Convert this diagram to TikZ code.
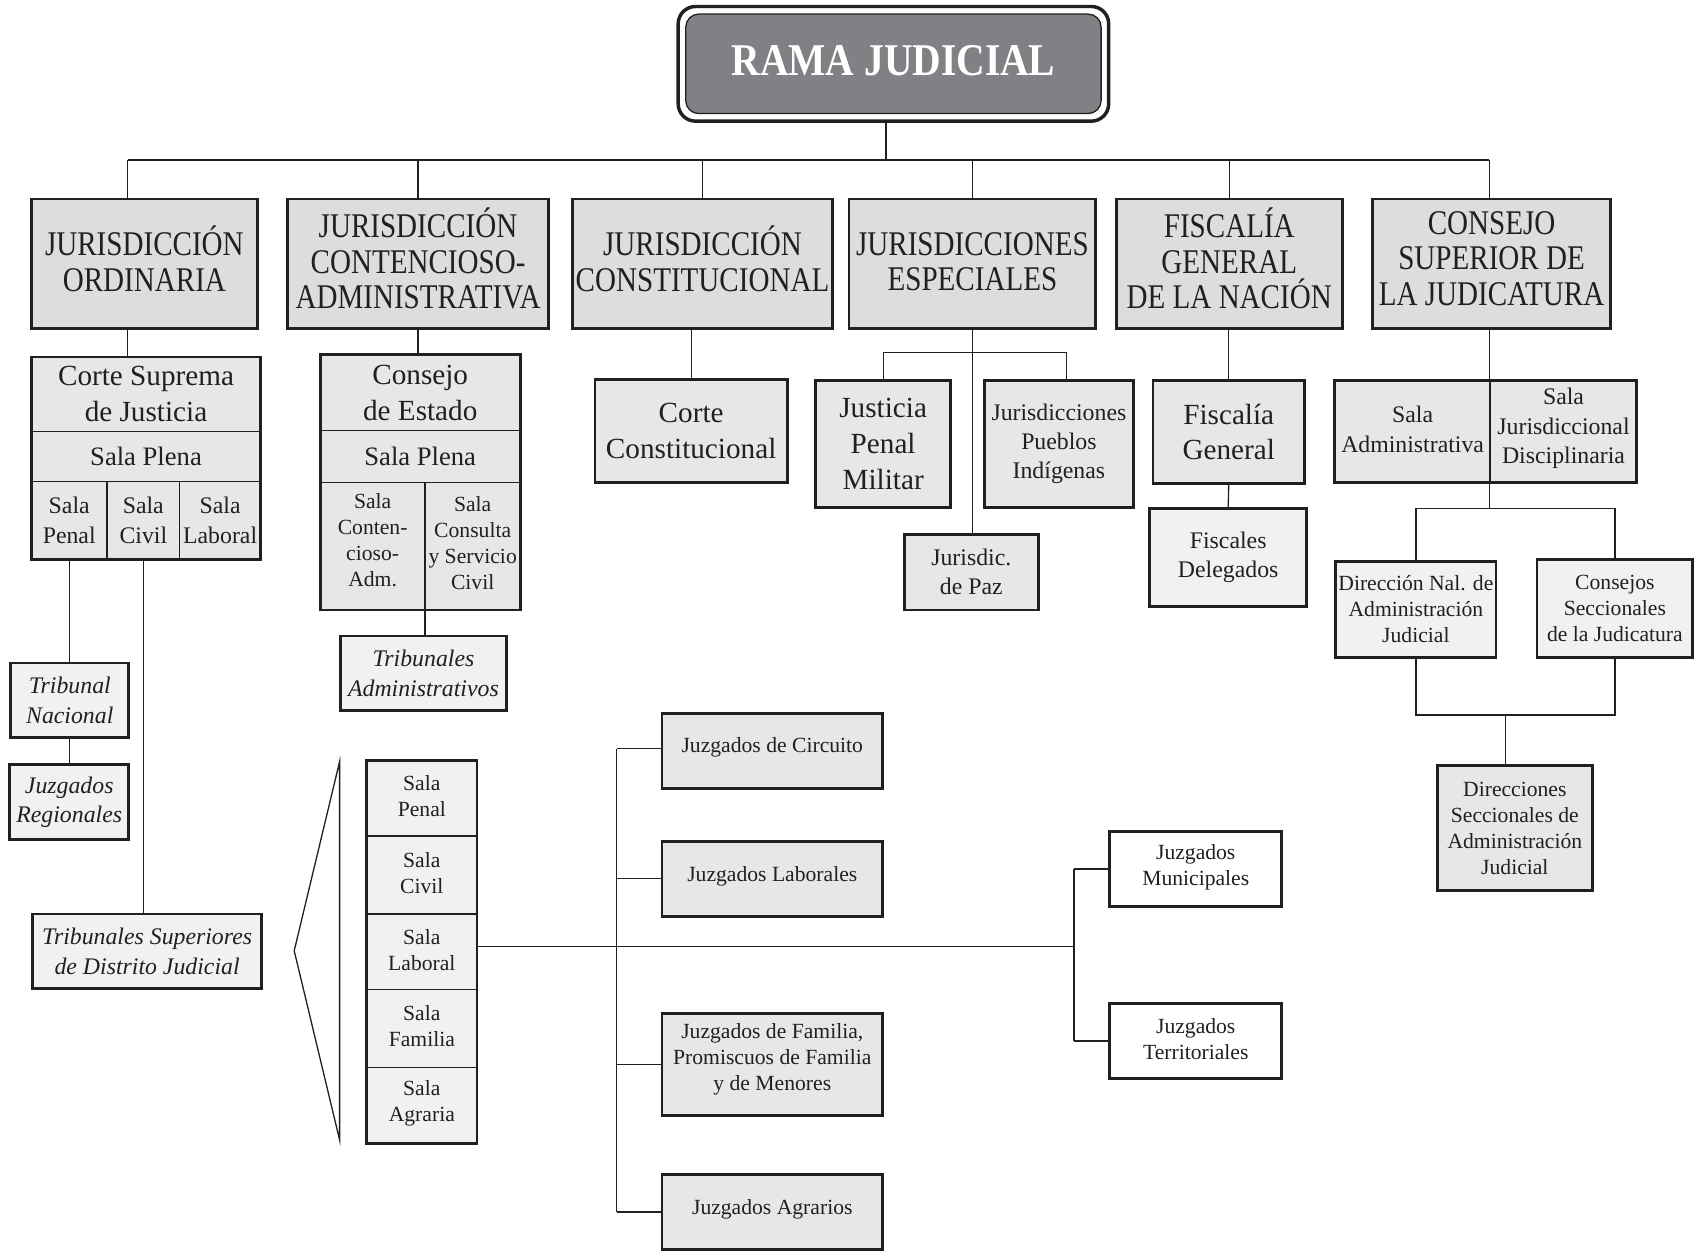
\documentclass[tikz,border=0pt]{standalone}
\usepackage{fontspec}
\setmainfont{Liberation Serif}
\newfontfamily\hdrfont[FakeStretch=0.84]{Liberation Serif}
\newfontfamily\ramafont[FakeStretch=0.87]{Liberation Serif}
\definecolor{ink}{HTML}{231F20}
\definecolor{hdrfill}{HTML}{DCDDDF}
\definecolor{midfill}{HTML}{E6E7E8}
\definecolor{lightfill}{HTML}{F1F1F2}
\definecolor{ramagray}{HTML}{808184}
% optional text shift (pt, positive = up), name, x1, y1, x2, y2, style, text
\newcommand\mybox[8][0]{%
  \node[#7, minimum width={(#5-#3)*0.5pt}, minimum height={(#6-#4)*0.5pt}] (#2) at ({(#3+#5)/2},{(#4+#6)/2}) {};
  \node[#7, draw=none, fill=none, minimum width=0pt, minimum height=0pt, yshift=#1pt] (#2t) at (#2.center) {#8};}
\tikzset{
  base/.style={draw=ink, text=ink, inner sep=0pt, outer sep=0pt, align=center, line width=1.3pt},
  cell/.style={draw=ink, text=ink, inner sep=0pt, outer sep=0pt, align=center, line width=0.7pt},
  hdr/.style={base, fill=hdrfill, font=\hdrfont\fontsize{16}{16.5}\selectfont},
  big/.style={font=\fontsize{13.5}{16.5}\selectfont},
  plena/.style={font=\fontsize{12.3}{15}\selectfont},
  med/.style={font=\fontsize{11}{13.5}\selectfont},
  sml/.style={font=\fontsize{10}{12}\selectfont},
  ital/.style={font=\itshape\fontsize{11}{13.5}\selectfont},
  conn/.style={draw=ink, line width=0.6pt},
}
\begin{document}
\begin{tikzpicture}[x=0.5pt, y=-0.5pt]
\useasboundingbox (0,0) rectangle (1568,1163);

% top box
\node[draw=ink, line width=1.6pt, rounded corners=8pt, minimum width=199pt, minimum height=53pt, inner sep=0pt] (ramaout) at (826,59) {};
\node[draw=ink, line width=0.6pt, fill=ramagray, rounded corners=6pt, minimum width=192pt, minimum height=46pt, inner sep=0pt] (rama) at (826,59) {};
\node[text=white, inner sep=0pt, font=\ramafont\bfseries\fontsize{21}{24}\selectfont, yshift=1.5pt] (ramat) at (rama.center) {RAMA JUDICIAL};

% level 1
\mybox[2.5]{h1}{29}{184}{238}{304}{hdr}{JURISDICCIÓN\\ORDINARIA}
\mybox[2.5]{h2}{266}{184}{507}{304}{hdr}{JURISDICCIÓN\\CONTENCIOSO-\\ADMINISTRATIVA}
\mybox[2.5]{h3}{529}{184}{770}{304}{hdr}{JURISDICCIÓN\\CONSTITUCIONAL}
\mybox[1]{h4}{785}{184}{1013}{304}{hdr}{JURISDICCIONES\\ESPECIALES}
\mybox[2.5]{h5}{1032}{184}{1241}{304}{hdr}{FISCALÍA\\GENERAL\\DE LA NACIÓN}
\mybox[2.5]{h6}{1269}{184}{1489}{304}{hdr}{CONSEJO\\SUPERIOR DE\\LA JUDICATURA}

% Corte Suprema
\mybox{cs1}{29}{330}{241}{399}{cell, fill=midfill, big}{Corte Suprema\\de Justicia}
\mybox{cs2}{29}{399}{241}{445}{cell, fill=midfill, plena}{Sala Plena}
\mybox{cs3a}{29}{445}{99}{517}{cell, fill=midfill, med}{Sala\\Penal}
\mybox{cs3b}{99}{445}{166}{517}{cell, fill=midfill, med}{Sala\\Civil}
\mybox{cs3c}{166}{445}{241}{517}{cell, fill=midfill, med}{Sala\\Laboral}
\draw[ink, line width=1.3pt] (cs1.north west) rectangle (cs3c.south east);

% Consejo de Estado
\mybox{ce1}{296}{328}{481}{398}{cell, fill=midfill, big}{Consejo\\de Estado}
\mybox{ce2}{296}{398}{481}{446}{cell, fill=midfill, plena}{Sala Plena}
\mybox[3]{ce3a}{296}{446}{393}{564}{cell, fill=midfill, sml}{Sala\\Conten-\\cioso-\\Adm.}
\mybox[1.5]{ce3b}{393}{446}{481}{564}{cell, fill=midfill, sml}{Sala\\Consulta\\y Servicio\\Civil}
\draw[ink, line width=1.3pt] (ce1.north west) rectangle (ce3b.south east);
\mybox{trib}{315}{588}{468}{657}{base, fill=lightfill, ital}{Tribunales\\Administrativos}

% Constitucional
\mybox{cc}{550}{351}{728}{446}{base, fill=midfill, big}{Corte\\Constitucional}

% Especiales
\mybox{jpm}{754}{352}{879}{469}{base, fill=midfill, big}{Justicia\\Penal\\Militar}
\mybox{ind}{910}{352}{1048}{469}{base, fill=midfill, med}{Jurisdicciones\\Pueblos\\Indígenas}
\mybox{paz}{836}{494}{960}{564}{base, fill=midfill, med}{Jurisdic.\\de Paz}

% Fiscalia
\mybox{fg}{1066}{352}{1206}{447}{base, fill=midfill, big}{Fiscalía\\General}
\mybox{fd}{1063}{470}{1208}{561}{base, fill=lightfill, med}{Fiscales\\Delegados}

% Consejo Superior
\mybox[1]{sa1}{1234}{352}{1378}{446}{cell, fill=midfill, med}{Sala\\Administrativa}
\mybox[1.5]{sa2}{1378}{352}{1513}{446}{cell, fill=midfill, med}{Sala\\Jurisdiccional\\Disciplinaria}
\draw[ink, line width=1.3pt] (sa1.north west) rectangle (sa2.south east);
\mybox{dn}{1235}{519}{1383}{608}{base, fill=lightfill, sml}{Dirección Nal. de\\Administración\\Judicial}
\mybox{csec}{1421}{517}{1565}{608}{base, fill=lightfill, sml}{Consejos\\Seccionales\\de la Judicatura}
\mybox{dsaj}{1329}{708}{1472}{823}{base, fill=midfill, sml}{Direcciones\\Seccionales de\\Administración\\Judicial}

% left lower
\mybox{tn}{10}{613}{119}{682}{base, fill=lightfill, ital}{Tribunal\\Nacional}
\mybox{jr}{9}{707}{119}{776}{base, fill=lightfill, ital}{Juzgados\\Regionales}
\mybox{ts}{30}{845}{242}{914}{base, fill=lightfill, ital}{Tribunales Superiores\\de Distrito Judicial}

% stack
\mybox[1]{st1}{339}{703}{441}{773}{cell, fill=lightfill, sml}{Sala\\Penal}
\mybox[1]{st2}{339}{773}{441}{845}{cell, fill=lightfill, sml}{Sala\\Civil}
\mybox[1]{st3}{339}{845}{441}{915}{cell, fill=lightfill, sml}{Sala\\Laboral}
\mybox[1]{st4}{339}{915}{441}{987}{cell, fill=lightfill, sml}{Sala\\Familia}
\mybox[1]{st5}{339}{987}{441}{1057}{cell, fill=lightfill, sml}{Sala\\Agraria}
\draw[ink, line width=1.3pt] (st1.north west) rectangle (st5.south east);

% juzgados
\mybox[2]{jc}{612}{660}{816}{729}{base, fill=midfill, sml}{Juzgados de Circuito}
\mybox[1]{jl}{612}{778}{816}{847}{base, fill=midfill, sml}{Juzgados Laborales}
\mybox[2.5]{jf}{612}{937}{816}{1031}{base, fill=midfill, sml}{Juzgados de Familia,\\Promiscuos de Familia\\y de Menores}
\mybox[1]{ja}{612}{1086}{816}{1155}{base, fill=midfill, sml}{Juzgados Agrarios}
\mybox[1]{jm}{1026}{769}{1185}{838}{base, fill=white, sml}{Juzgados\\Municipales}
\mybox[1]{jt}{1026}{928}{1185}{997}{base, fill=white, sml}{Juzgados\\Territoriales}

% coordinates
\coordinate (top) at (819,148);
\coordinate (busL) at (118,148);
\coordinate (busR) at (1377,148);
\coordinate (espbr) at (899,326);
\coordinate (indtop) at (986,352);
\coordinate (csjbr) at (1377,470);
\coordinate (mid) at (1392,661);
\coordinate (brtop) at (314,704);
\coordinate (brtip) at (272,879);
\coordinate (brbot) at (314,1054);
\coordinate (jv) at (570,875);
\coordinate (jbr) at (993,875);

% connectors
\draw[conn] (top |- ramaout.south) -- (top);
\draw[conn] (busL) -- (busR);
\draw[conn] (busL) -- (busL |- h1.north);
\draw[conn] (h2.north |- busL) -- (h2.north);
\draw[conn] (h3.north |- busL) -- (h3.north);
\draw[conn] (h4.north |- busL) -- (h4.north);
\draw[conn] (h5.north |- busL) -- (h5.north);
\draw[conn] (busR) -- (busR |- h6.north);

\draw[conn] (busL |- h1.south) -- (busL |- cs1.north);
\draw[conn] (h2.south) -- (h2.south |- ce1.north);
\draw[conn] (ce3a.south east) -- (ce3a.south east |- trib.north);
\draw[conn] (cc.north |- h3.south) -- (cc.north);
\draw[conn] (h4.south) -- (h4.south |- paz.north);
\draw[conn] (jpm.north) -- (jpm.north |- espbr) -- (indtop |- espbr) -- (indtop);
\draw[conn] (fg.north |- h5.south) -- (fg.north);
\draw[conn] (fg.south) -- (fd.north);
\draw[conn] (csjbr |- h6.south) -- (csjbr);
\draw[conn] (dn.north) |- (csjbr) -| (csec.north);
\draw[conn] (dn.south) |- (mid) -| (csec.south);
\draw[conn] (mid) -- (mid |- dsaj.north);

\draw[conn] (cs3a.south) -- (cs3a.south |- tn.north);
\draw[conn] (tn.south) -- (tn.south |- jr.north);
\draw[conn] (cs3b.south) -- (cs3b.south |- ts.north);
\draw[conn] (brtop) -- (brtip) -- (brbot) -- cycle;

\draw[conn] (jbr -| st3.east) -- (jbr);
\draw[conn] (jv |- 0,692) -- (jv |- ja.west);
\draw[conn] (jv |- 0,692) -- (jc.west |- 0,692);
\draw[conn] (jv |- jl.west) -- (jl.west);
\draw[conn] (jv |- jf.west) -- (jf.west);
\draw[conn] (jv |- ja.west) -- (ja.west);
\draw[conn] (jbr |- jm.west) -- (jbr |- jt.west);
\draw[conn] (jbr |- jm.west) -- (jm.west);
\draw[conn] (jbr |- jt.west) -- (jt.west);
\end{tikzpicture}
\end{document}
